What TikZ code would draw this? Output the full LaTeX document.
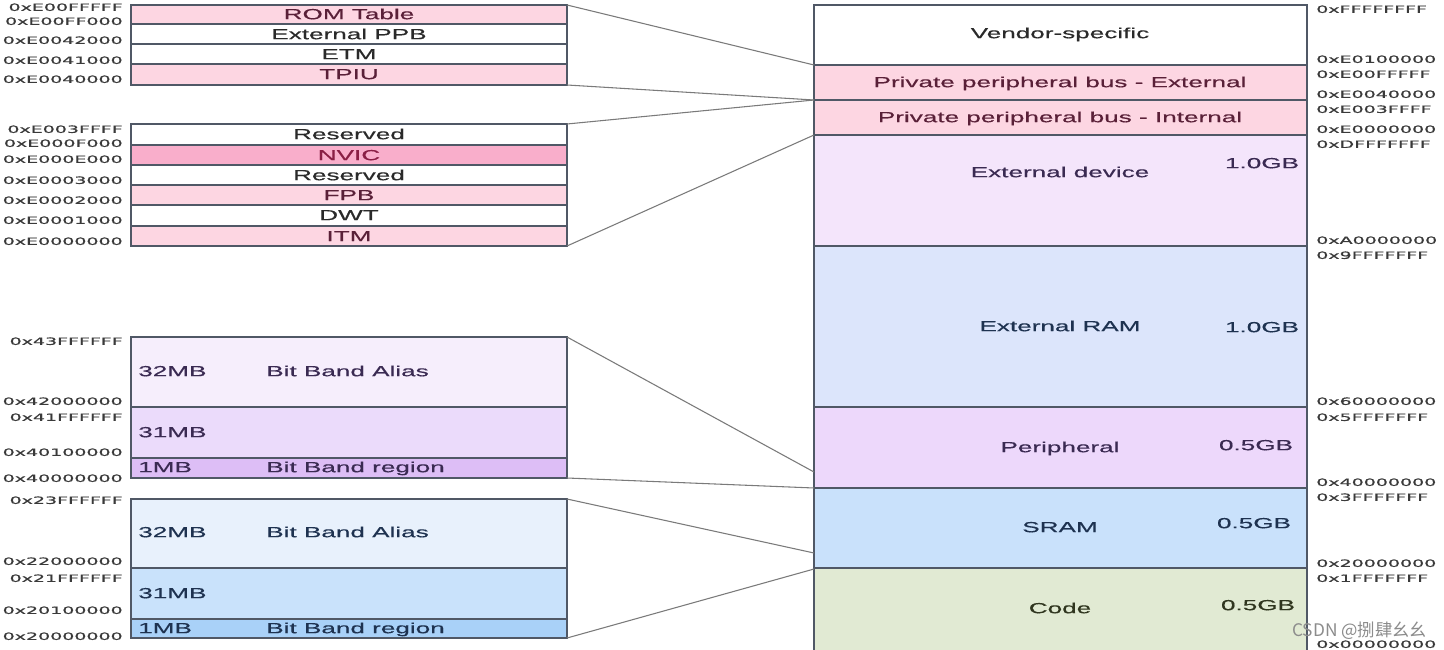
\documentclass[tikz,border=0pt]{standalone}
\usepackage{fontspec}
\newfontfamily\addrfont[FakeStretch=1.9,FakeBold=0.9]{DejaVu Sans}
\newfontfamily\boxfont[FakeStretch=1.78,FakeBold=0.4]{Liberation Sans}
\newfontfamily\cjkfont{Noto Sans CJK SC}
\definecolor{bordc}{HTML}{505866}
\definecolor{linec}{HTML}{7A7A7A}
\definecolor{pinkA}{HTML}{FDD6E2}
\definecolor{pinkB}{HTML}{F9AECB}
\definecolor{extdev}{HTML}{F4E5FB}
\definecolor{extram}{HTML}{DCE5FB}
\definecolor{periph}{HTML}{EDD8FB}
\definecolor{sram}{HTML}{C9E1FB}
\definecolor{code}{HTML}{E1EAD3}
\definecolor{pAlias}{HTML}{F6EEFC}
\definecolor{pMid}{HTML}{EBDBFB}
\definecolor{pBit}{HTML}{DDBEF6}
\definecolor{sAlias}{HTML}{E8F1FC}
\definecolor{sMid}{HTML}{C9E2FB}
\definecolor{sBit}{HTML}{A9D1F8}
\definecolor{txtpink}{HTML}{5A2038}
\definecolor{txtnvic}{HTML}{8A1F45}
\definecolor{txtdark}{HTML}{2A2A2A}
\definecolor{txtaddr}{HTML}{3A3A3A}
\definecolor{txtpurp}{HTML}{3A2A52}
\definecolor{txtblue}{HTML}{1E3250}
\definecolor{txtgreen}{HTML}{30361F}
\tikzset{
  cell/.style={draw=bordc, line width=1.1pt},
  conn/.style={draw=linec, line width=0.8pt},
  addrR/.style={anchor=base west, inner sep=0pt, yshift=-2.9pt, font=\addrfont\fontsize{7.5}{8}\selectfont, text=txtaddr},
  addrL/.style={anchor=base east, inner sep=0pt, yshift=-2.9pt, font=\addrfont\fontsize{7.5}{8}\selectfont, text=txtaddr},
  lbl/.style={anchor=base, inner sep=0pt, yshift=-3.9pt, font=\boxfont\fontsize{11}{12}\selectfont, text=txtdark},
  lblw/.style={lbl, anchor=base west},
}
\begin{document}
\begin{tikzpicture}[x=0.75pt,y=-0.75pt]
\useasboundingbox (0,0) rectangle (1444,649);
\fill[white] (0,0) rectangle (1444,649);

% ---------- main memory map ----------
\filldraw[cell, fill=white]  (814,5)   rectangle (1307,65);
\filldraw[cell, fill=pinkA]  (814,65)  rectangle (1307,100);
\filldraw[cell, fill=pinkA]  (814,100) rectangle (1307,135);
\filldraw[cell, fill=extdev] (814,135) rectangle (1307,246);
\filldraw[cell, fill=extram] (814,246) rectangle (1307,407);
\filldraw[cell, fill=periph] (814,407) rectangle (1307,488);
\filldraw[cell, fill=sram]   (814,488) rectangle (1307,568);
\filldraw[cell, fill=code]   (814,568) rectangle (1307,652);

\coordinate (mVendB) at (814,65);
\coordinate (mExtB)  at (814,100);
\coordinate (mIntB)  at (814,135);
\coordinate (mPer)   at (814,472);
\coordinate (mPerB)  at (814,488);
\coordinate (mSram)  at (814,553);
\coordinate (mSramB) at (814,569);

\node[lbl] (vend) at (1060,33) {Vendor-specific};
\node[lbl, text=txtpink] (ppbe) at (1060,82) {Private peripheral bus - External};
\node[lbl, text=txtpink] (ppbi) at (1060,117) {Private peripheral bus - Internal};
\node[lbl, text=txtpurp] (edev) at (1060,172) {External device};
\node[lbl, text=txtpurp] (edevs) at (1262,163) {1.0GB};
\node[lbl, text=txtblue] (eram) at (1060,326) {External RAM};
\node[lbl, text=txtblue] (erams) at (1262,327) {1.0GB};
\node[lbl, text=txtpurp] (per) at (1060,447) {Peripheral};
\node[lbl, text=txtpurp] (pers) at (1256,445) {0.5GB};
\node[lbl, text=txtblue] (sr) at (1060,527) {SRAM};
\node[lbl, text=txtblue] (srs) at (1254,523) {0.5GB};
\node[lbl, text=txtgreen] (cd) at (1060,608) {Code};
\node[lbl, text=txtgreen] (cds) at (1258,605) {0.5GB};

% right addresses
\node[addrR] (r1)  at (1316,9)   {0xFFFFFFFF};
\node[addrR] (r2)  at (1316,59)  {0xE0100000};
\node[addrR] (r3)  at (1316,74)  {0xE00FFFFF};
\node[addrR] (r4)  at (1316,94)  {0xE0040000};
\node[addrR] (r5)  at (1316,109) {0xE003FFFF};
\node[addrR] (r6)  at (1316,129) {0xE0000000};
\node[addrR] (r7)  at (1316,144) {0xDFFFFFFF};
\node[addrR] (r8)  at (1316,240) {0xA0000000};
\node[addrR] (r9)  at (1316,255) {0x9FFFFFFF};
\node[addrR] (r10) at (1316,401) {0x60000000};
\node[addrR] (r11) at (1316,417) {0x5FFFFFFF};
\node[addrR] (r12) at (1316,482) {0x40000000};
\node[addrR] (r13) at (1316,497) {0x3FFFFFFF};
\node[addrR] (r14) at (1316,563) {0x20000000};
\node[addrR] (r15) at (1316,578) {0x1FFFFFFF};
\node[addrR] (r16) at (1316,644) {0x00000000};

% ---------- PPB external ----------
\filldraw[cell, fill=pinkA] (131,5)  rectangle (567,24);
\filldraw[cell, fill=white] (131,24) rectangle (567,44);
\filldraw[cell, fill=white] (131,44) rectangle (567,64);
\filldraw[cell, fill=pinkA] (131,64) rectangle (567,85);
\coordinate (eTop) at (567,5);
\coordinate (eBot) at (567,85);
\node[lbl, text=txtpink] (rom) at (349,14) {ROM Table};
\node[lbl] (eppb) at (349,34) {External PPB};
\node[lbl] (etm) at (349,54) {ETM};
\node[lbl, text=txtpink] (tpiu) at (349,74) {TPIU};

\node[addrL] (l1) at (123,7)  {0xE00FFFFF};
\node[addrL] (l2) at (123,21) {0xE00FF000};
\node[addrL] (l3) at (123,40) {0xE0042000};
\node[addrL] (l4) at (123,60) {0xE0041000};
\node[addrL] (l5) at (123,79) {0xE0040000};

% ---------- PPB internal ----------
\filldraw[cell, fill=white] (131,124) rectangle (567,145);
\filldraw[cell, fill=pinkB] (131,145) rectangle (567,165);
\filldraw[cell, fill=white] (131,165) rectangle (567,185);
\filldraw[cell, fill=pinkA] (131,185) rectangle (567,205);
\filldraw[cell, fill=white] (131,205) rectangle (567,226);
\filldraw[cell, fill=pinkA] (131,226) rectangle (567,246);
\coordinate (iTop) at (567,124);
\coordinate (iBot) at (567,246);
\node[lbl] (res1) at (349,134) {Reserved};
\node[lbl, text=txtnvic] (nvic) at (349,155) {NVIC};
\node[lbl] (res2) at (349,175) {Reserved};
\node[lbl, text=txtpink] (fpb) at (349,195) {FPB};
\node[lbl] (dwt) at (349,215) {DWT};
\node[lbl, text=txtpink] (itm) at (349,236) {ITM};

\node[addrL] (l6)  at (123,129) {0xE003FFFF};
\node[addrL] (l7)  at (123,143) {0xE000F000};
\node[addrL] (l8)  at (123,159) {0xE000E000};
\node[addrL] (l9)  at (123,180) {0xE0003000};
\node[addrL] (l10) at (123,200) {0xE0002000};
\node[addrL] (l11) at (123,220) {0xE0001000};
\node[addrL] (l12) at (123,241) {0xE0000000};

% ---------- Peripheral bit band ----------
\filldraw[cell, fill=pAlias] (131,337) rectangle (567,407);
\filldraw[cell, fill=pMid]   (131,407) rectangle (567,458);
\filldraw[cell, fill=pBit]   (131,458) rectangle (567,478);
\coordinate (pTop) at (567,337);
\coordinate (pBot) at (567,478);
\node[lblw, text=txtpurp] (p32) at (138,371) {32MB};
\node[lblw, text=txtpurp] (pal) at (266,371) {Bit Band Alias};
\node[lblw, text=txtpurp] (p31) at (138,432) {31MB};
\node[lblw, text=txtpurp] (p1)  at (138,467) {1MB};
\node[lblw, text=txtpurp] (pbr) at (266,467) {Bit Band region};

\node[addrL] (l13) at (123,341) {0x43FFFFFF};
\node[addrL] (l14) at (123,401) {0x42000000};
\node[addrL] (l15) at (123,417) {0x41FFFFFF};
\node[addrL] (l16) at (123,452) {0x40100000};
\node[addrL] (l17) at (123,478) {0x40000000};

% ---------- SRAM bit band ----------
\filldraw[cell, fill=sAlias] (131,499) rectangle (567,568);
\filldraw[cell, fill=sMid]   (131,568) rectangle (567,619);
\filldraw[cell, fill=sBit]   (131,619) rectangle (567,638);
\coordinate (sTop) at (567,499);
\coordinate (sBot) at (567,638);
\node[lblw, text=txtblue] (s32) at (138,532) {32MB};
\node[lblw, text=txtblue] (sal) at (266,532) {Bit Band Alias};
\node[lblw, text=txtblue] (s31) at (138,593) {31MB};
\node[lblw, text=txtblue] (s1)  at (138,628) {1MB};
\node[lblw, text=txtblue] (sbr) at (266,628) {Bit Band region};

\node[addrL] (l18) at (123,500) {0x23FFFFFF};
\node[addrL] (l19) at (123,561) {0x22000000};
\node[addrL] (l20) at (123,578) {0x21FFFFFF};
\node[addrL] (l21) at (123,610) {0x20100000};
\node[addrL] (l22) at (123,636) {0x20000000};

% ---------- connectors ----------
\draw[conn] (eTop) -- (mVendB);
\draw[conn] (eBot) -- (mExtB);
\draw[conn] (iTop) -- (mExtB);
\draw[conn] (iBot) -- (mIntB);
\draw[conn] (pTop) -- (mPer);
\draw[conn] (pBot) -- (mPerB);
\draw[conn] (sTop) -- (mSram);
\draw[conn] (sBot) -- (mSramB);

% watermark
\node[anchor=west, inner sep=0pt, text=black!45, font=\cjkfont\fontsize{13}{14}\selectfont] (wm) at (1292,631) {CSDN @捌肆幺幺};
\end{tikzpicture}
\end{document}
